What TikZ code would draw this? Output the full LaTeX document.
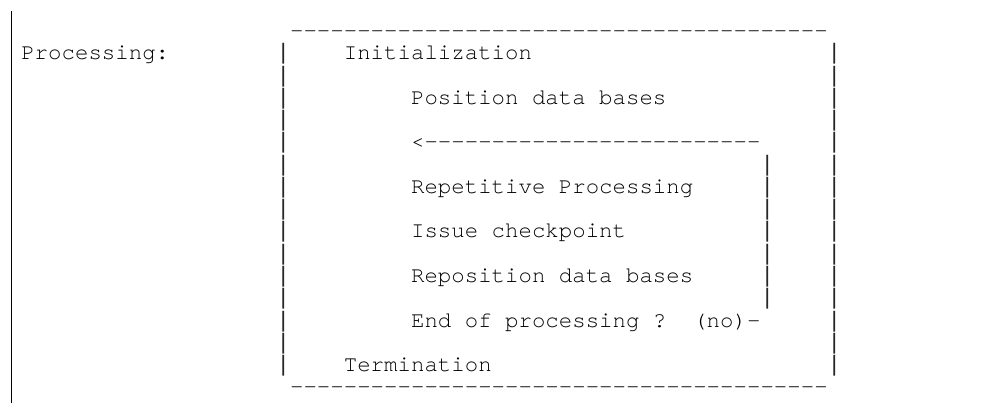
\documentclass[tikz,border=0pt]{standalone}
\usepackage{fontspec}
\newfontfamily\asciifont{TeX Gyre Cursor}
\newfontfamily\barfont{Liberation Mono}
\begin{document}
\begin{tikzpicture}[x=1pt,y=1pt,
  txt/.style={font=\asciifont\fontsize{22.4}{22.25}\selectfont, text=black,
    anchor=base west, inner sep=0pt, outer sep=0pt},
  barglyph/.style={txt, font=\barfont\fontsize{22.4}{22.25}\selectfont, text=black!85},
  edge/.style={draw=black, line width=1pt}]
% character grid: column pitch 13.44, row pitch 22.25
\def\cx#1{21.3+#1*13.44}
\def\ry#1{-(37.75+#1*22.25)}
\useasboundingbox (0,0) rectangle (988,-403);
% left margin rule
\coordinate (mtop) at (11.5,-11);
\coordinate (mbot) at (11.5,-403);
\draw[edge] (mtop) -- (mbot);
% top and bottom rules of the outer frame
\node[txt] (toprule) at ({\cx{20}},{\ry{0}}) {----------------------------------------};
\node[txt] (botrule) at ({\cx{20}},{\ry{16}}) {----------------------------------------};
% side bars of the outer frame
\foreach \r in {1,...,15} {
  \node[barglyph] (lbar\r) at ({\cx{19}},{\ry{\r}}) {|};
  \node[barglyph] (rbar\r) at ({\cx{60}},{\ry{\r}}) {|};
}
% loop-back bar
\foreach \r in {6,...,12} {
  \node[barglyph] (ibar\r) at ({\cx{55}},{\ry{\r}}) {|};
}
% labels
\node[txt] (proc) at ({\cx{0}},{\ry{1}}) {Processing:};
\node[txt] (init) at ({\cx{24}},{\ry{1}}) {Initialization};
\node[txt] (pos)  at ({\cx{29}},{\ry{3}}) {Position data bases};
\node[txt] (loop) at ({\cx{29}},{\ry{5}}) {<-------------------------};
\node[txt] (rep)  at ({\cx{29}},{\ry{7}}) {Repetitive Processing};
\node[txt] (chk)  at ({\cx{29}},{\ry{9}}) {Issue checkpoint};
\node[txt] (repos) at ({\cx{29}},{\ry{11}}) {Reposition data bases};
\node[txt] (endq) at ({\cx{29}},{\ry{13}}) {End of processing ?};
\node[txt] (no)   at ({\cx{50}},{\ry{13}}) {(no)-};
\node[txt] (term) at ({\cx{24}},{\ry{15}}) {Termination};
\end{tikzpicture}
\end{document}
